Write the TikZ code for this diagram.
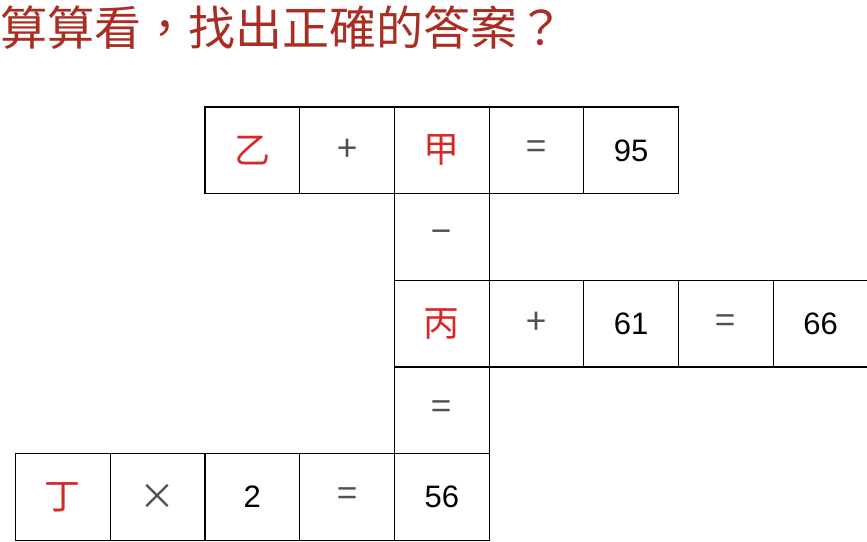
\documentclass[tikz,border=0pt]{standalone}
\usepackage{fontspec}
\setmainfont{Liberation Sans}
\newfontfamily\cjk{Noto Sans CJK TC}
\usetikzlibrary{positioning}
\definecolor{titlec}{RGB}{170,45,35}
\definecolor{unkc}{RGB}{215,40,40}
\definecolor{opc}{RGB}{80,80,80}
\tikzset{
  cell/.style={draw, line width=1.2pt, outer sep=0pt, inner sep=0pt,
               minimum width=94.7pt, minimum height=86.7pt, font=\fontsize{31}{31}\selectfont},
  unk/.style={cell, text=unkc, font=\cjk\fontsize{36}{36}\selectfont},
  op/.style={cell, text=opc, font=\cjk\fontsize{36}{36}\selectfont},
}

\begin{document}
\begin{tikzpicture}[x=1pt, y=1pt, node distance=0pt]
  \useasboundingbox (0,0) rectangle (867,541);
  \node[anchor=north west, inner sep=0pt, text=titlec,
        font=\cjk\fontsize{47}{47}\selectfont] (title) at (0,535) {算算看，找出正確的答案？};
  % top row
  \node[unk, anchor=north west] (yi) at (205,434) {乙};
  \node[op,  right=of yi]   (plus1) {+};
  \node[unk, right=of plus1] (jia)  {甲};
  \node[op,  right=of jia]  (eq1)   {=};
  \node[cell, right=of eq1] (n95)   {95};
  % middle column
  \node[op,  below=of jia]  (minus) {−};
  \node[unk, below=of minus] (bing) {丙};
  \node[op,  right=of bing] (plus2) {+};
  \node[cell, right=of plus2] (n61) {61};
  \node[op,  right=of n61]  (eq2)   {=};
  \node[cell, right=of eq2] (n66)   {66};
  \node[op,  below=of bing] (eq3)   {=};
  % bottom row
  \node[cell, below=of eq3] (n56)   {56};
  \node[op,  left=of n56]   (eq4)   {=};
  \node[cell, left=of eq4]  (two)   {2};
  \node[op,  left=of two]   (times) {×};
  \node[unk, left=of times] (ding)  {丁};
\end{tikzpicture}
\end{document}
